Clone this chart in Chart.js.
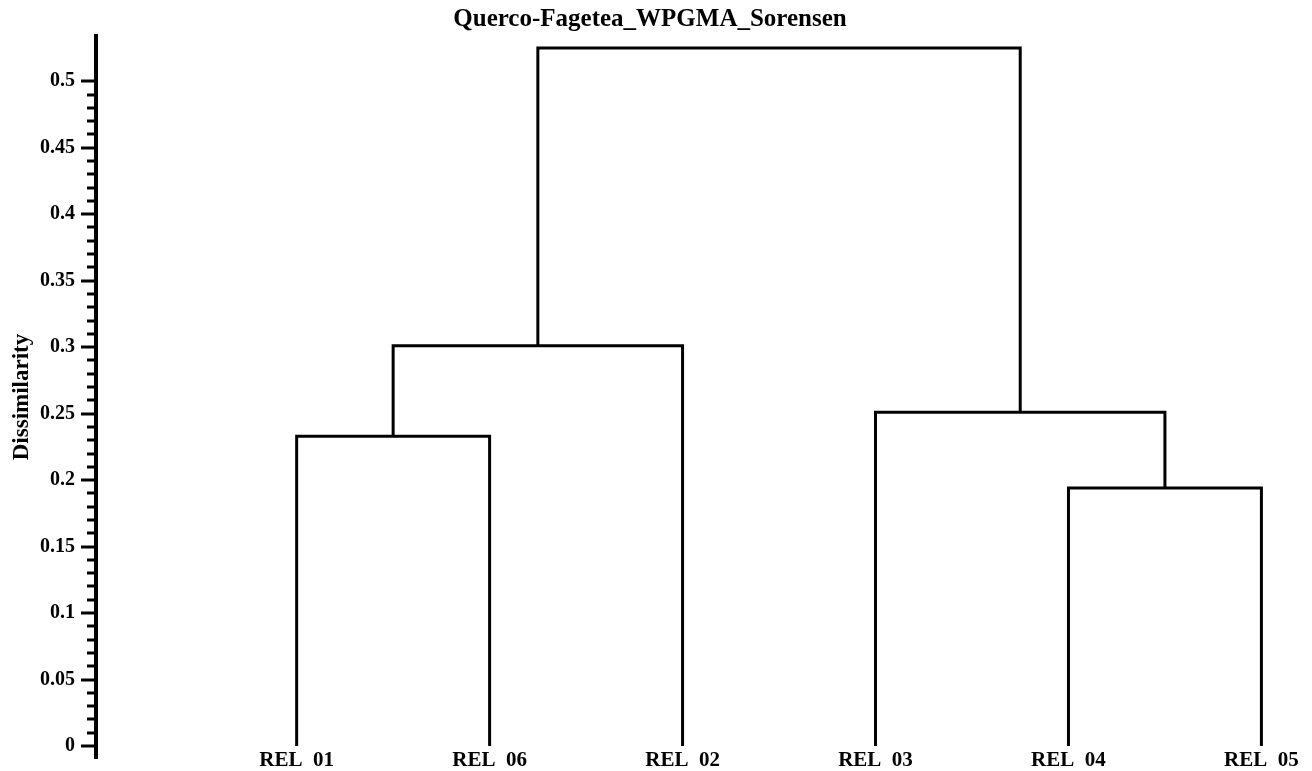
<!DOCTYPE html>
<html>
<head>
<meta charset="utf-8">
<script src="https://cdn.jsdelivr.net/npm/chart.js@4/dist/chart.umd.min.js"></script>
<style>
  html, body { margin: 0; padding: 0; background: #fff; }
</style>
</head>
<body>
<canvas id="chart" width="1312" height="771"></canvas>
<script>
// leaves in display order
const leaves = ["REL  01", "REL  06", "REL  02", "REL  03", "REL  04", "REL  05"]

// merges: node ids 0-5 are leaves, each merge makes node 6, 7, ...
const mergeA = [0, 4, 6, 3, 8]
const mergeB = [1, 5, 2, 7, 9]
const mergeHeight = [0.233, 0.194, 0.301, 0.251, 0.525]

const tickValues = [0, 0.01, 0.02, 0.03, 0.04, 0.05, 0.06, 0.07, 0.08, 0.09, 0.1,
  0.11, 0.12, 0.13, 0.14, 0.15, 0.16, 0.17, 0.18, 0.19, 0.2,
  0.21, 0.22, 0.23, 0.24, 0.25, 0.26, 0.27, 0.28, 0.29, 0.3,
  0.31, 0.32, 0.33, 0.34, 0.35, 0.36, 0.37, 0.38, 0.39, 0.4,
  0.41, 0.42, 0.43, 0.44, 0.45, 0.46, 0.47, 0.48, 0.49, 0.5]
const tickLabels = ["0", "0.05", "0.1", "0.15", "0.2", "0.25", "0.3", "0.35", "0.4", "0.45", "0.5"]

const serif = "'Liberation Serif', 'DejaVu Serif', serif"

// node positions: leaves sit at their index, merged nodes halfway between children
const nodeX = leaves.map((_, i) => i)
const nodeY = leaves.map(() => 0)
const datasets = []
mergeA.forEach((a, i) => {
  const b = mergeB[i]
  const h = mergeHeight[i]
  datasets.push({
    data: [
      { x: nodeX[a], y: nodeY[a] },
      { x: nodeX[a], y: h },
      { x: nodeX[b], y: h },
      { x: nodeX[b], y: nodeY[b] }
    ],
    borderColor: "#000",
    backgroundColor: "#000",
    borderWidth: 3,
    pointRadius: 0,
    tension: 0,
    fill: false
  })
  nodeX.push((nodeX[a] + nodeX[b]) / 2)
  nodeY.push(h)
})

// major/minor tick marks on the dissimilarity axis, leaf names under the tree
const axisExtras = {
  id: "axisExtras",
  afterDraw(chart) {
    const ctx = chart.ctx
    const y = chart.scales.y
    const x = chart.scales.x
    const x0 = chart.chartArea.left
    ctx.save()
    ctx.strokeStyle = "#000"
    ctx.lineWidth = 3
    tickValues.forEach((v, i) => {
      const py = Math.round(y.getPixelForValue(v))
      const len = i % 5 === 0 ? 15 : 9
      ctx.beginPath()
      ctx.moveTo(x0 - len, py)
      ctx.lineTo(x0, py)
      ctx.stroke()
    })
    ctx.fillStyle = "#000"
    ctx.font = "bold 21px " + serif
    ctx.textAlign = "center"
    ctx.textBaseline = "middle"
    leaves.forEach((name, i) => {
      ctx.fillText(name, x.getPixelForValue(i), chart.chartArea.bottom + 3)
    })
    ctx.restore()
  }
}

new Chart(document.getElementById("chart"), {
  type: "line",
  data: { datasets: datasets },
  options: {
    responsive: false,
    animation: false,
    layout: { padding: { left: 0, right: 12, top: 0, bottom: 13 } },
    plugins: {
      legend: { display: false },
      tooltip: { enabled: false },
      title: {
        display: true,
        text: "Querco-Fagetea_WPGMA_Sorensen",
        color: "#000",
        font: { family: serif, size: 25, weight: "bold" },
        padding: { top: 5, bottom: 1 }
      }
    },
    scales: {
      x: {
        type: "linear",
        display: false,
        min: -1.04,
        max: 5.2
      },
      y: {
        type: "linear",
        min: -0.009,
        max: 0.534,
        afterBuildTicks: scale => {
          scale.ticks = tickValues.map(v => ({ value: v }))
        },
        afterFit: scale => {
          scale.width = 96
          scale.paddingTop = 0
          scale.paddingBottom = 0
        },
        grid: { display: false, drawTicks: false },
        border: { display: true, color: "#000", width: 4 },
        ticks: {
          padding: 21,
          autoSkip: false,
          color: "#000",
          font: { family: serif, size: 20, weight: "bold" },
          callback: (value, index) => index % 5 === 0 ? tickLabels[index / 5] : ""
        },
        title: {
          display: true,
          text: "Dissimilarity",
          color: "#000",
          font: { family: serif, size: 23, weight: "bold" },
          padding: { top: 8, bottom: 0 }
        }
      }
    }
  },
  plugins: [axisExtras]
})
</script>
</body>
</html>
